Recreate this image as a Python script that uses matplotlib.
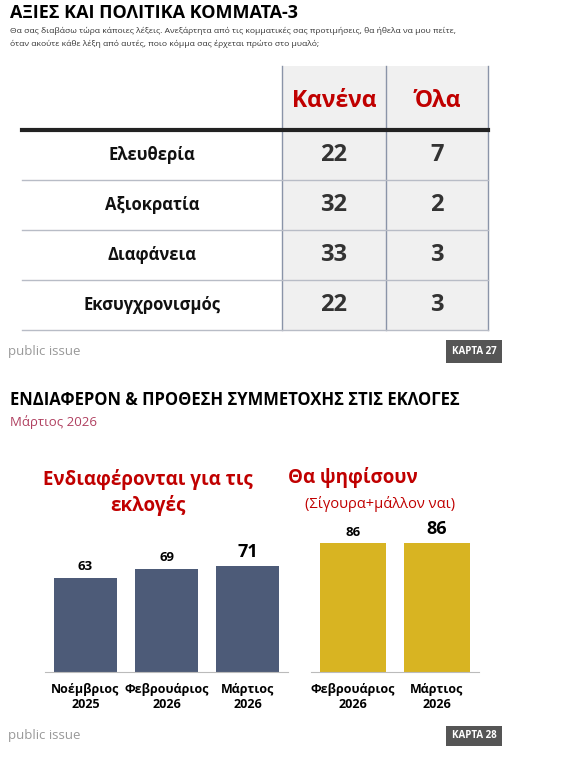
import matplotlib
matplotlib.use("Agg")
import matplotlib.pyplot as plt
from matplotlib.patches import Rectangle

plt.rcParams['font.family'] = ['Open Sans', 'DejaVu Sans']

W, H = 564, 759
rows = ["Ελευθερία", "Αξιοκρατία", "Διαφάνεια", "Εκσυγχρονισμός"]
col_heads = ["Κανένα", "Όλα"]
kanena = [22, 32, 33, 22]
ola = [7, 2, 3, 3]

left_cats = ["Νοέμβριος\n2025", "Φεβρουάριος\n2026", "Μάρτιος\n2026"]
left_vals = [63, 69, 71]
right_cats = ["Φεβρουάριος\n2026", "Μάρτιος\n2026"]
right_vals = [86, 86]

RED = "#c00000"
NAVY = "#4d5b78"
GOLD = "#d8b422"

fig = plt.figure(figsize=(W/100, H/100), dpi=100)
bg = fig.add_axes([0, 0, 1, 1])
bg.set_xlim(0, W); bg.set_ylim(H, 0); bg.axis("off")

def T(x, y, s, **kw):
    bg.text(x, y, s, **kw)

# --- Card 27 ---
T(10, 13, "ΑΞΙΕΣ ΚΑΙ ΠΟΛΙΤΙΚΑ ΚΟΜΜΑΤΑ-3", fontsize=13, fontweight="bold", va="center")
T(10, 31, "Θα σας διαβάσω τώρα κάποιες λέξεις. Ανεξάρτητα από τις κομματικές σας προτιμήσεις, θα ήθελα να μου πείτε,",
  fontsize=6.1, va="center", color="#333333")
T(10, 44, "όταν ακούτε κάθε λέξη από αυτές, ποιο κόμμα σας έρχεται πρώτο στο μυαλό;",
  fontsize=6.1, va="center", color="#333333")

cx = [282, 386, 488]
top, hline = 66, 130
rh = 50
bot = hline + rh * len(rows)
for i in range(2):
    bg.add_patch(Rectangle((cx[i], top), cx[i+1]-cx[i], bot-top, facecolor="#f0f0f0", edgecolor="none"))
for x in cx:
    bg.plot([x, x], [top, bot], color="#8a94a8", lw=1)
for i in range(1, len(rows)+1):
    y = hline + rh*i
    bg.plot([22, 488], [y, y], color="#b8bcc6", lw=1)
bg.plot([22, 488], [hline, hline], color="#222222", lw=3)
for i, h in enumerate(col_heads):
    T((cx[i]+cx[i+1])/2, 101, h, fontsize=16.5, fontweight="bold", color=RED, ha="center", va="center")
for r, name in enumerate(rows):
    yc = hline + rh*r + rh/2
    T(152, yc, name, fontsize=12, fontweight="bold", ha="center", va="center", color="#111111")
    T((cx[0]+cx[1])/2, yc, str(kanena[r]), fontsize=17, fontweight="bold", ha="center", va="center", color="#333333")
    T((cx[1]+cx[2])/2, yc, str(ola[r]), fontsize=17, fontweight="bold", ha="center", va="center", color="#333333")

T(8, 352, "public issue", fontsize=9.5, color="#999999", va="center")
bg.add_patch(Rectangle((446, 340), 56, 23, facecolor="#555555", edgecolor="none"))
T(474, 351.5, "ΚΑΡΤΑ 27", fontsize=7, color="white", fontweight="bold", ha="center", va="center")

# --- Card 28 ---
T(10, 400, "ΕΝΔΙΑΦΕΡΟΝ & ΠΡΟΘΕΣΗ ΣΥΜΜΕΤΟΧΗΣ ΣΤΙΣ ΕΚΛΟΓΕΣ", fontsize=12, fontweight="bold", va="center")
T(10, 422, "Μάρτιος 2026", fontsize=9.5, color="#b04060", va="center")
T(148, 479, "Ενδιαφέρονται για τις", fontsize=13.5, fontweight="bold", color=RED, ha="center", va="center")
T(148, 505, "εκλογές", fontsize=13.5, fontweight="bold", color=RED, ha="center", va="center")
T(353, 478, "Θα ψηφίσουν", fontsize=13.5, fontweight="bold", color=RED, ha="center", va="center")
T(380, 504, "(Σίγουρα+μάλλον ναι)", fontsize=10.5, color=RED, ha="center", va="center")

def px_axes(x0, x1, ytop, ybot):
    return fig.add_axes([x0/W, 1-ybot/H, (x1-x0)/W, (ybot-ytop)/H])

for (x0, x1, cats, vals, col, fs) in [(45, 288, left_cats, left_vals, NAVY, [9.5, 9.5, 13]),
                                      (311, 479, right_cats, right_vals, GOLD, [9.5, 13])]:
    ax = px_axes(x0, x1, 522, 672)
    ax.patch.set_alpha(0)
    xs = list(range(len(vals)))
    ax.bar(xs, vals, width=0.79, color=col)
    ax.set_xlim(-0.5, len(vals)-0.5); ax.set_ylim(0, 100)
    for s in ["top", "right", "left"]:
        ax.spines[s].set_visible(False)
    ax.spines["bottom"].set_color("#bbbbbb")
    ax.set_yticks([])
    ax.set_xticks(xs)
    ax.set_xticklabels(cats, fontsize=9, fontweight="bold")
    ax.tick_params(axis="x", length=0, pad=8)
    for x, v, f in zip(xs, vals, fs):
        ax.text(x, v+3, str(v), ha="center", va="bottom", fontsize=f, fontweight="bold")

T(8, 736, "public issue", fontsize=9.5, color="#999999", va="center")
bg.add_patch(Rectangle((446, 726), 56, 20, facecolor="#555555", edgecolor="none"))
T(474, 736, "ΚΑΡΤΑ 28", fontsize=7, color="white", fontweight="bold", ha="center", va="center")

fig.savefig("out.png", dpi=100)
